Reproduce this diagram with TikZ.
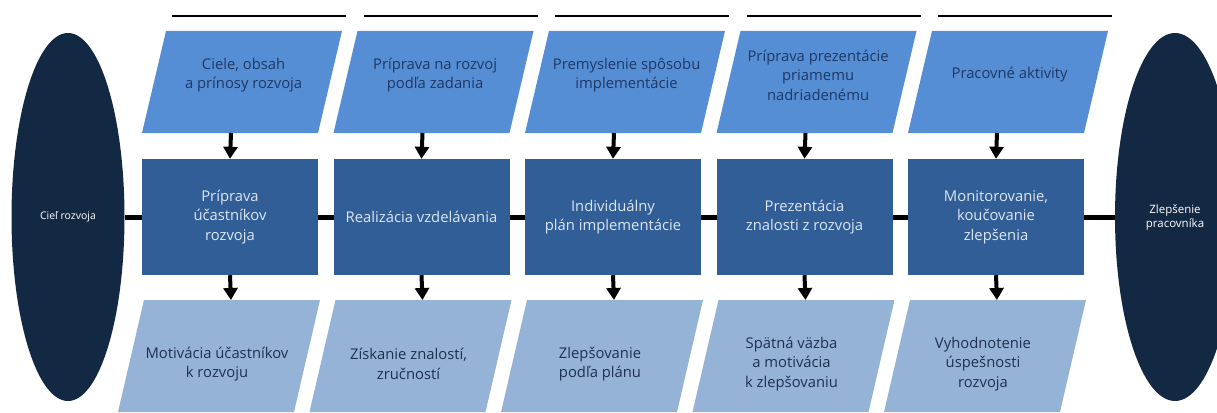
\documentclass[tikz,border=0pt]{standalone}
\usepackage{fontspec}
\setmainfont{Open Sans}
\usetikzlibrary{arrows.meta,shapes.geometric}
\definecolor{topc}{HTML}{558ED5}
\definecolor{midc}{HTML}{315E97}
\definecolor{botc}{HTML}{95B3D7}
\definecolor{ellc}{HTML}{132843}
\definecolor{toptxt}{HTML}{1F3864}
\definecolor{midtxt}{HTML}{DCE6F2}
\definecolor{bottxt}{HTML}{1F3050}
\begin{document}
\begin{tikzpicture}[x=1pt,y=-1pt,
  toptext/.style={align=center,text=toptxt,font=\fontsize{14.8}{19.5}\selectfont,inner sep=0pt},
  bottext/.style={align=center,text=bottxt,font=\fontsize{14.8}{19.5}\selectfont,inner sep=0pt},
  midbox/.style={rectangle,fill=midc,text=midtxt,align=center,font=\fontsize{14.8}{19.5}\selectfont,
    minimum width=176pt,minimum height=116pt,inner sep=0pt},
  endell/.style={ellipse,fill=ellc,text=white,align=center,inner sep=0pt},
  flow/.style={line width=4pt,-{Triangle[width=14pt,length=12pt]}},
  spine/.style={line width=5pt},
  rule/.style={line width=1.8pt}]
\useasboundingbox (0,0) rectangle (1217,412);
\clip (0,0) rectangle (1217,412);

% end ellipses
\node[endell,font=\fontsize{10.5}{13}\selectfont,minimum width=113pt,minimum height=368pt] (L) at (68,217) {Cieľ rozvoja};
\node[endell,font=\fontsize{11.5}{14}\selectfont,minimum width=120pt,minimum height=368pt] (R) at (1175,217) {Zlepšenie\\pracovníka};

% spine
\draw[spine] (L.east) -- (R.west);

% parallelograms, rules and anchor coordinates
\foreach \bx/\n in {142/1,333.5/2,525/3,716.5/4,908/5}{
  \draw[rule] ({\bx+30},16) -- ++(174,0);
  \fill[topc] (\bx,133) -- ++(176,0) -- ++(24,-102) -- ++(-176,0) -- cycle;
  \fill[botc] ({\bx+2},300) -- ++(176,0) -- ++(-26,112) -- ++(-176,0) -- cycle;
  \coordinate (tb\n) at ({\bx+89},133);
  \coordinate (bt\n) at ({\bx+89},300);
}

% top texts
\node[toptext] (t1) at (243.6,75) {Ciele, obsah\\a prínosy rozvoja};
\node[toptext] (t2) at (435.1,75) {Príprava na rozvoj\\podľa zadania};
\node[toptext] (t3) at (626.6,75) {Premyslenie spôsobu\\implementácie};
\node[toptext] (t4) at (818.1,75) {Príprava prezentácie\\priamemu\\nadriadenému};
\node[toptext] (t5) at (1009.6,75) {Pracovné aktivity};

% middle boxes
\node[midbox] (m1) at (230,217) {Príprava\\účastníkov\\rozvoja};
\node[midbox] (m2) at (421.5,217) {Realizácia vzdelávania};
\node[midbox] (m3) at (613,217) {Individuálny\\plán implementácie};
\node[midbox] (m4) at (804.5,217) {Prezentácia\\znalosti z rozvoja};
\node[midbox] (m5) at (996,217) {Monitorovanie,\\koučovanie\\zlepšenia};

% bottom texts
\node[bottext] (b1) at (217,364) {Motivácia účastníkov\\k rozvoju};
\node[bottext] (b2) at (408.5,364) {Získanie znalostí,\\zručností};
\node[bottext] (b3) at (600,364) {Zlepšovanie\\podľa plánu};
\node[bottext] (b4) at (791.5,364) {Spätná väzba\\a motivácia\\k zlepšovaniu};
\node[bottext] (b5) at (983,364) {Vyhodnotenie\\úspešnosti\\rozvoja};

% arrows
\foreach \n in {1,...,5}{
  \draw[flow] (tb\n) -- (m\n.north);
  \draw[flow] (m\n.south) -- (bt\n);
}
\end{tikzpicture}
\end{document}
